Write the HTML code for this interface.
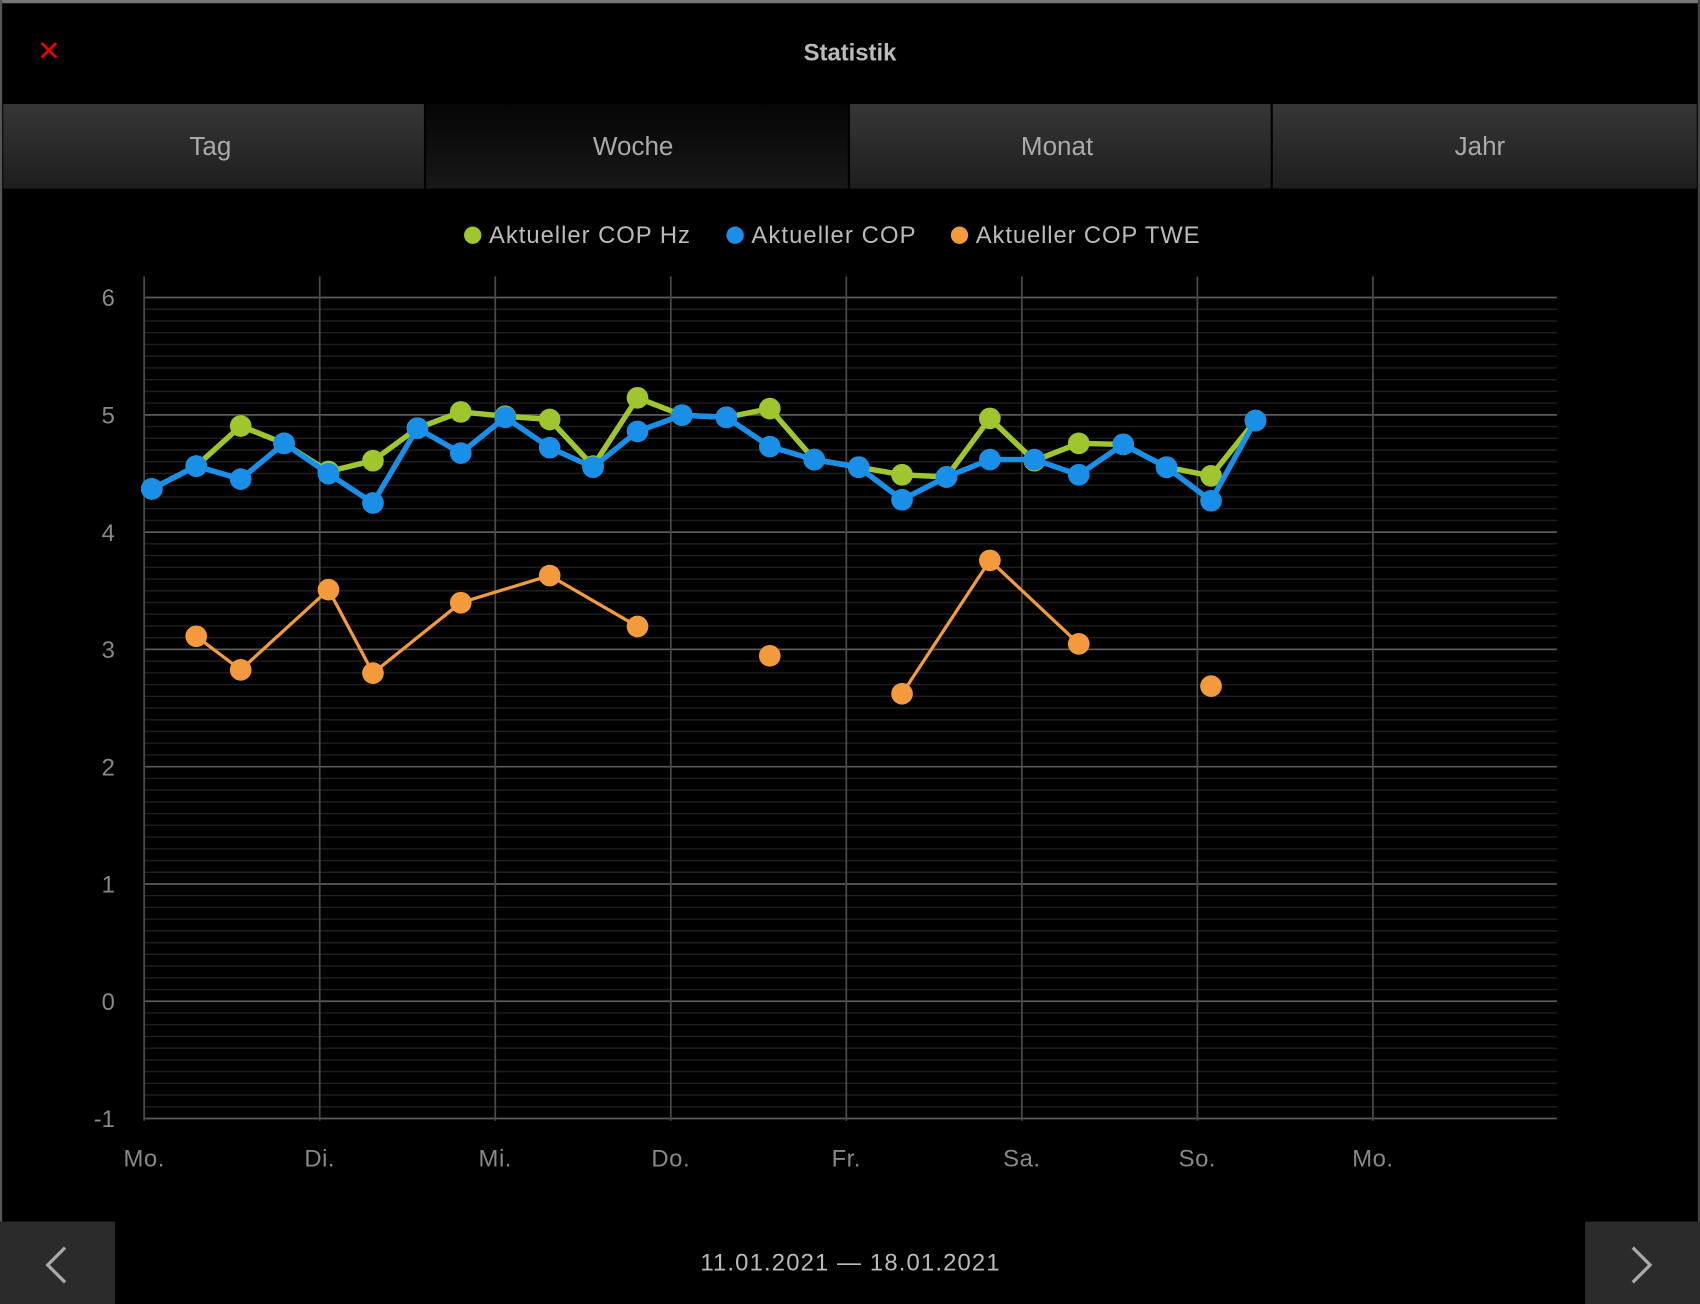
<!DOCTYPE html>
<html><head><meta charset="utf-8"><style>
html,body{margin:0;padding:0;background:#000;width:1700px;height:1304px;overflow:hidden}
svg{display:block}
text{font-family:"Liberation Sans","DejaVu Sans",sans-serif}
</style></head><body>
<svg width="1700" height="1304" viewBox="0 0 1568 1203" preserveAspectRatio="none">
<defs>
<linearGradient id="tab" x1="0" y1="0" x2="0" y2="1"><stop offset="0" stop-color="#363636"/><stop offset="1" stop-color="#1e1e1e"/></linearGradient>
<linearGradient id="tabA" x1="0" y1="0" x2="0" y2="1"><stop offset="0" stop-color="#050505"/><stop offset="1" stop-color="#181818"/></linearGradient>
</defs>
<rect width="1568" height="1203" fill="#000"/>
<rect x="0" y="0" width="1568" height="3" fill="#777"/>
<rect x="0" y="0" width="2" height="1203" fill="#555"/>
<rect x="1566" y="0" width="2" height="1203" fill="#444"/>
<text x="45" y="56" fill="#e00" font-size="26" text-anchor="middle">✕</text>
<text x="784" y="56" fill="#bbb" font-size="22" font-weight="bold" text-anchor="middle">Statistik</text>
<rect x="3" y="96" width="388" height="78" fill="url(#tab)"/>
<rect x="393" y="96" width="389" height="78" fill="url(#tabA)"/>
<rect x="784" y="96" width="388" height="78" fill="url(#tab)"/>
<rect x="1174" y="96" width="391" height="78" fill="url(#tab)"/>
<g fill="#aaa" font-size="24" text-anchor="middle">
<text x="194" y="143">Tag</text><text x="584" y="143">Woche</text><text x="975" y="143">Monat</text><text x="1365" y="143">Jahr</text>
</g>
<g font-size="22" fill="#bbb" letter-spacing="0.6">
<circle cx="436" cy="217" r="8" fill="#9fc62e"/><text x="451" y="224" textLength="186">Aktueller COP Hz</text>
<circle cx="678" cy="217" r="8" fill="#1a8fe8"/><text x="693" y="224" textLength="152">Aktueller COP</text>
<circle cx="885" cy="217" r="8" fill="#f39a3c"/><text x="900" y="224" textLength="207">Aktueller COP TWE</text>
</g>
<g id="minor" stroke="#1f1f1f" stroke-width="1.3"></g>
<g id="major" stroke="#5a5a5a" stroke-width="1.6"></g>
<g id="vert" stroke="#4a4a4a" stroke-width="1.6"></g>
<g id="ylab" fill="#888" font-size="22" text-anchor="end"></g>
<g id="xlab" fill="#888" font-size="22" text-anchor="middle" letter-spacing="0.5"></g>
<g id="series"></g>
<rect x="0" y="1127" width="106" height="76" fill="#2b2b2b"/>
<rect x="1462" y="1127" width="106" height="76" fill="#2b2b2b"/>
<polyline points="60,1151 44,1167 60,1183" fill="none" stroke="#aaa" stroke-width="3"/>
<polyline points="1506,1151 1522,1167 1506,1183" fill="none" stroke="#aaa" stroke-width="3"/>
<text x="784" y="1172" fill="#bbb" font-size="22" text-anchor="middle" textLength="276">11.01.2021 — 18.01.2021</text>
</svg>
<script>
const NS="http://www.w3.org/2000/svg";
function el(p,t,a,txt){const e=document.createElementNS(NS,t);for(const k in a)e.setAttribute(k,a[k]);if(txt!==undefined)e.textContent=txt;document.getElementById(p).appendChild(e);return e;}
const L=133,R=1436,y6=274.5,u=108.2;
for(let i=0;i<=70;i++){const y=y6+i*u/10;if(i%10)el('minor','line',{x1:L,x2:R,y1:y,y2:y});}
for(let v=6;v>=-1;v--){const y=y6+(6-v)*u;el('major','line',{x1:L,x2:R,y1:y,y2:y});el('ylab','text',{x:106,y:y+8},String(v));}
const days=["Mo.","Di.","Mi.","Do.","Fr.","Sa.","So.","Mo."];
for(let i=0;i<8;i++){const x=L+i*161.9;el('vert','line',{x1:x,x2:x,y1:255,y2:1034});el('xlab','text',{x:x,y:1076},days[i]);}
const G=[[140,451],[181,430],[222,393],[262,409],[303,435],[344,425],[385,395],[425,380],[466,384],[507,387],[547,430],[588,367],[629,383],[670,385],[710,377],[751,424],[792,431],[832,438],[873,440],[913,386],[954,425],[995,409],[1036,410],[1076,431],[1117,439],[1158,388]];
const B=[[140,451],[181,430],[222,442],[262,409],[303,437],[344,464],[385,395],[425,418],[466,385],[507,413],[547,431],[588,398],[629,383],[670,385],[710,412],[751,424],[792,431],[832,461],[873,440],[913,424],[954,424],[995,438],[1036,410],[1076,431],[1117,462],[1158,388]];
const O=[[[181,587],[222,618],[303,544],[344,621],[425,556],[507,531],[588,578]],[[710,605]],[[832,640],[913,517],[995,594]],[[1117,633]]];
function draw(pts,c,w,r){el('series','polyline',{points:pts.map(p=>p.join(',')).join(' '),fill:'none',stroke:c,'stroke-width':w,'stroke-linejoin':'round'});pts.forEach(p=>el('series','circle',{cx:p[0],cy:p[1],r:r,fill:c}));}
draw(G,'#9fc62e',5,10);
draw(B,'#1a8fe8',5,10);
O.forEach(s=>draw(s,'#f39a3c',3,10));
</script>
</body></html>
